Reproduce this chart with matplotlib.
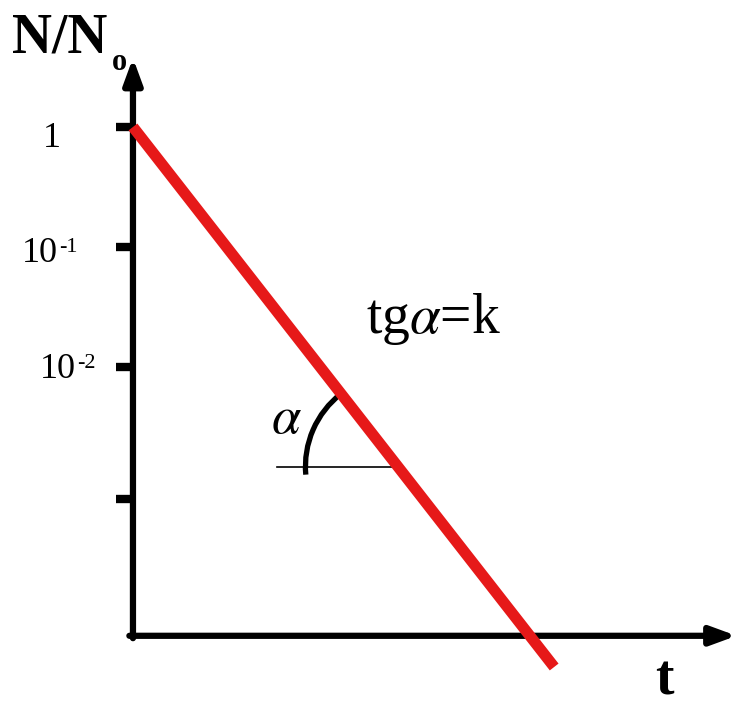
import matplotlib
matplotlib.use("Agg")
import matplotlib.pyplot as plt
import numpy as np
from matplotlib.patches import Arc

plt.rcParams["font.family"] = ["Liberation Serif", "DejaVu Serif"]
plt.rcParams["mathtext.fontset"] = "stix"

# decay line in (t, log10 N/N0) units
t_line = [0.0, 3.51]
logn_line = [0.0, -4.50]

# y-axis ticks (log10 of N/N0) and their labels
tick_logs = [0.0, -1.0, -2.0, -3.1]
tick_base = ["1", "10", "10", ""]
tick_exp = ["", "-1", "-2", ""]

# layout (same units as the data)
label_left = [-0.75, -0.925, -0.775, 0.0]
label_drop = [0.165, 0.125, 0.095, 0.0]
x_axis_at = -4.24
x_axis_end = 5.03
y_axis_top = 0.575
angle_level = -2.83

fig = plt.figure(figsize=(7.38, 7.06), dpi=100)
ax = fig.add_axes([0, 0, 1, 1])
ax.set_xlim(-1.108, 5.042)
ax.set_ylim(-4.825, 1.058)
ax.axis("off")

arrow = dict(arrowstyle="-|>,head_length=0.9,head_width=0.33", color="black",
             lw=4.5, shrinkA=0, shrinkB=0, mutation_scale=17)
ax.annotate("", xy=(0, y_axis_top), xytext=(0, x_axis_at - 0.02), arrowprops=arrow)
ax.annotate("", xy=(x_axis_end, x_axis_at), xytext=(-0.03, x_axis_at), arrowprops=arrow)

# tick marks and labels
for y, base, exp, lx, dy in zip(tick_logs, tick_base, tick_exp, label_left, label_drop):
    ax.plot([-0.14, 0], [y, y], color="black", lw=6, solid_capstyle="butt")
    if not base:
        continue
    txt = ax.text(lx, y - dy, base, fontsize=26, ha="left", va="baseline")
    if exp:
        # exponent sits right of the mantissa, baseline raised a little
        ax.annotate(exp, xy=(1, 0), xycoords=txt, xytext=(1, 13),
                    textcoords="offset points", fontsize=16, ha="left",
                    va="baseline")

# decay line
ax.plot(t_line, logn_line, color="#e61919", lw=8, solid_capstyle="butt", zorder=3)

# slope angle construction
k = (logn_line[1] - logn_line[0]) / (t_line[1] - t_line[0])
t_c = (angle_level - logn_line[0]) / k
ax.plot([1.2, t_c], [angle_level, angle_level], color="black", lw=1.2)
line_deg = 180 - np.degrees(np.arctan(-k))
ax.add_patch(Arc((t_c, angle_level), 2 * 0.77, 2 * 0.77, theta1=line_deg,
                 theta2=185, color="black", lw=3.8, zorder=2))
ax.text(1.15, -2.55, r"$\alpha$", fontsize=38, ha="left", va="baseline")
ax.text(1.94, -1.717, r"tg$\alpha$=k", fontsize=40, ha="left", va="baseline")

# axis names
ax.text(-1.008, 0.617, "N/N", fontsize=40, fontweight="bold", ha="left", va="baseline")
ax.text(-0.175, 0.475, "o", fontsize=22, fontweight="bold", ha="left", va="baseline")
ax.text(4.35, -4.733, "t", fontsize=40, fontweight="bold", ha="left", va="baseline")

fig.savefig("out.png", dpi=100)
